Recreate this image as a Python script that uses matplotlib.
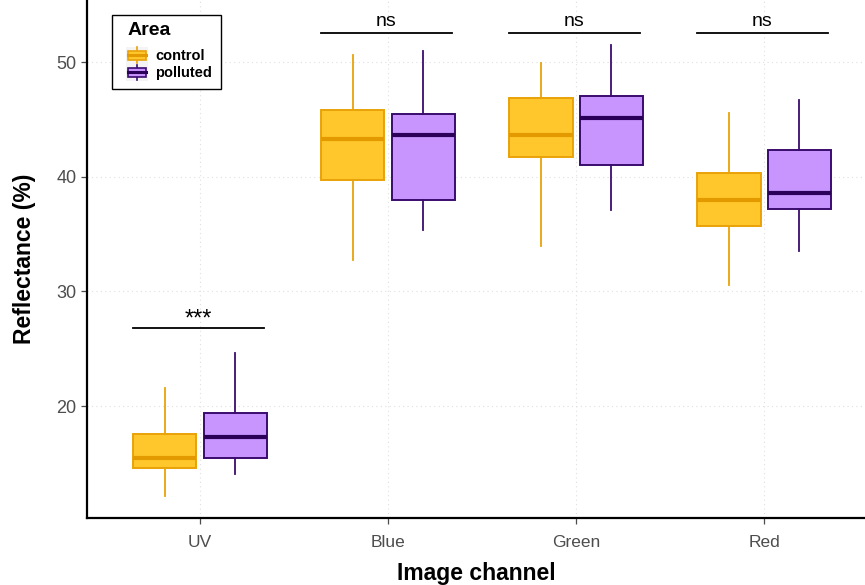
import matplotlib
matplotlib.use("Agg")
import matplotlib.pyplot as plt
from matplotlib.legend_handler import HandlerBase
from matplotlib.patches import Rectangle
from matplotlib.lines import Line2D
import numpy as np

plt.rcParams['font.family'] = ['Liberation Sans', 'DejaVu Sans']

channels = ["UV", "Blue", "Green", "Red"]
areas = ["control", "polluted"]

# box summaries per channel (whisker low, q1, median, q3, whisker high)
control_low = [12.2, 32.7, 34.0, 30.6]
control_q1 = [14.6, 39.7, 41.7, 35.7]
control_med = [15.5, 43.3, 43.6, 38.0]
control_q3 = [17.6, 45.8, 46.9, 40.3]
control_high = [21.6, 50.6, 49.9, 45.6]

polluted_low = [14.1, 35.4, 37.1, 33.5]
polluted_q1 = [15.5, 38.0, 41.0, 37.2]
polluted_med = [17.3, 43.6, 45.1, 38.6]
polluted_q3 = [19.4, 45.5, 47.0, 42.3]
polluted_high = [24.6, 51.0, 51.5, 46.7]

# significance brackets
sig_labels = ["***", "ns", "ns", "ns"]
sig_y = [26.8, 52.5, 52.5, 52.5]

colors = {
    "control": dict(face="#FFC72C", edge="#E9A208", median="#E39A00"),
    "polluted": dict(face="#C895FF", edge="#3A0C6E", median="#2A0058"),
}


def make_stats(low, q1, med, q3, high):
    return [dict(whislo=a, q1=b, med=c, q3=d, whishi=e, fliers=[])
            for a, b, c, d, e in zip(low, q1, med, q3, high)]


class BoxKey(HandlerBase):
    """Draws a tiny boxplot glyph as the legend key."""
    def create_artists(self, legend, orig_handle, xdescent, ydescent,
                       width, height, fontsize, trans):
        c = colors[orig_handle.get_label()]
        x0, y0 = -xdescent, -ydescent
        bg = Rectangle((x0 - 0.1 * width, y0 - 0.15 * height), width * 1.2, height * 1.3,
                       facecolor="#F4F4F4", edgecolor="none", transform=trans)
        cx = x0 + width / 2
        whisk = Line2D([cx, cx], [y0 - 0.1 * height, y0 + 1.1 * height],
                       color=c["edge"], lw=1.2, transform=trans)
        box = Rectangle((x0, y0 + 0.15 * height), width, 0.7 * height,
                        facecolor=c["face"], edgecolor=c["edge"], lw=1.2, transform=trans)
        med = Line2D([x0, x0 + width], [y0 + 0.5 * height] * 2,
                     color=c["median"], lw=2.2, transform=trans)
        return [bg, whisk, box, med]


fig = plt.figure(figsize=(8.65, 5.85), dpi=100)
ax = fig.add_axes([0.1006, 0.1145, 0.8994, 0.8855])

x = np.arange(1, len(channels) + 1)
offset = 0.1875
width = 0.3375

groups = [
    ("control", make_stats(control_low, control_q1, control_med, control_q3, control_high), -offset),
    ("polluted", make_stats(polluted_low, polluted_q1, polluted_med, polluted_q3, polluted_high), offset),
]

for name, stats, dx in groups:
    c = colors[name]
    ax.bxp(stats, positions=x + dx, widths=width, patch_artist=True,
           showcaps=False, showfliers=False, manage_ticks=False,
           boxprops=dict(facecolor=c["face"], edgecolor=c["edge"], linewidth=1.4),
           whiskerprops=dict(color=c["edge"], linewidth=1.3),
           medianprops=dict(color=c["median"], linewidth=3.0, solid_capstyle="butt"),
           zorder=3)

for xi, lab, yi in zip(x, sig_labels, sig_y):
    ax.plot([xi - 0.355, xi + 0.34], [yi, yi], color="black", lw=1.3, zorder=3)
    size = 17 if lab.startswith("*") else 14
    dy = 0.25 if lab.startswith("*") else 0.65
    ax.text(xi - 0.01, yi + dy, lab, ha="center", va="baseline", fontsize=size, color="black")

ax.set_xlim(0.399, 4.537)
ax.set_ylim(10.25, 55.41)
ax.set_xticks(x)
ax.set_xticklabels(channels)
ax.set_yticks([20, 30, 40, 50])

ax.grid(True, linestyle=(0, (1, 3)), color="#E0E0E0", linewidth=0.8, zorder=0)
ax.set_axisbelow(True)

for s in ["top", "right"]:
    ax.spines[s].set_visible(False)
for s in ["left", "bottom"]:
    ax.spines[s].set_linewidth(1.6)
    ax.spines[s].set_color("black")

ax.tick_params(axis="both", colors="#4D4D4D", labelsize=12.5, length=4, width=0.9)
ax.tick_params(axis="x", pad=8)
ax.tick_params(axis="y", labelsize=13)

ax.set_xlabel("Image channel", fontsize=16.5, fontweight="bold", labelpad=9)
ax.set_ylabel("Reflectance (%)", fontsize=16.5, fontweight="bold", labelpad=15)

# legend frame drawn separately so the side padding can differ from the top
fig.patches.append(Rectangle((112 / 865, 1 - 89 / 585), 109 / 865, 74 / 585,
                             transform=fig.transFigure, facecolor="white",
                             edgecolor="black", lw=1.0, zorder=5))

handles = [Rectangle((0, 0), 1, 1, label=a) for a in areas]
leg = fig.legend(handles=handles, labels=areas, title="Area",
                 handler_map={Rectangle: BoxKey()},
                 loc="upper left", bbox_to_anchor=(128 / 865, 1 - 22 / 585),
                 borderaxespad=0, borderpad=0,
                 prop=dict(size=10.5, weight="bold"),
                 title_fontproperties=dict(size=14, weight="bold"),
                 frameon=False,
                 handlelength=1.25, handleheight=1.0, handletextpad=0.6,
                 labelspacing=0.18)
leg.set_zorder(6)
leg._legend_box.align = "left"
leg._legend_box.sep = 7

fig.savefig("out.png", dpi=100)
